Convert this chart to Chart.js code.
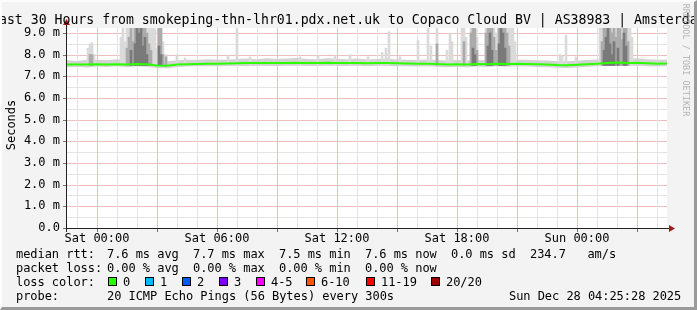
<!DOCTYPE html>
<html>
<head>
<meta charset="utf-8">
<script src="https://cdn.jsdelivr.net/npm/chart.js"></script>
<style>
body { margin: 0; background: #f3f3f3; }
#wrap { position: relative; width: 697px; height: 310px; background: #f3f3f3; overflow: hidden;
  font-family: "DejaVu Sans Mono", monospace; color: #000; }
#wrap canvas { position: absolute; left: 0; top: 0; }
.frame { position: absolute; left: 0; top: 0; width: 697px; height: 310px; box-sizing: border-box;
  border-style: solid; border-width: 2px 3px 3px 2px; border-color: #fcfcfc #9a9a9a #9a9a9a #fcfcfc; pointer-events: none; }
.title { position: absolute; left: -9px; top: 13px; font-size: 13.2px; line-height: 13px; white-space: nowrap; }
.t { position: absolute; font-size: 12px; line-height: 14px; white-space: pre; letter-spacing: -0.05px; }
.box { position: absolute; top: 277px; width: 9px; height: 9px; box-sizing: border-box; border: 1px solid #000; }
.ylab { position: absolute; left: -29px; top: 118px; width: 80px; height: 14px; line-height: 14px; font-size: 12px; text-align: center; transform: rotate(-90deg); }
.rrd { position: absolute; left: 626px; top: 55px; width: 120px; height: 10px; line-height: 10px; font-size: 8.5px; color: #b4b4b4; text-align: center; transform: rotate(90deg); white-space: nowrap; }
</style>
</head>
<body>
<div id="wrap">
  <canvas id="chart" width="697" height="310"></canvas>
  <div class="title">Last 30 Hours from smokeping-thn-lhr01.pdx.net.uk to Copaco Cloud BV | AS38983 | Amsterdam</div>
  <div class="ylab">Seconds</div>
  <div class="rrd">RRDTOOL / TOBI OETIKER</div>
  <div id="legend"></div>
  <div class="frame"></div>
</div>
<script>
// time axis in hours relative to Sat 00:00
const sampleHour = [-1.5,-1,-0.5,0, 0.5,1,1.5,2,2.5,3, 3.5,4,4.5,5,5.5,6, 6.5,7,7.5,8,8.5,9,
  9.5,10,10.5,11,11.5,12, 12.5,13,13.5,14,14.5,15, 15.5,16,16.5,17,17.5,18, 18.5,19,19.5,20,20.5,21,
  21.5,22,22.5,23,23.5,24, 24.5,25,25.5,26,26.5,27, 27.5,28,28.5];
const median = [7.55,7.54,7.55,7.56, 7.55,7.56,7.55,7.57,7.56,7.50, 7.49,7.54,7.56,7.57,7.58,7.58,
  7.59,7.60,7.61,7.61,7.62,7.61, 7.62,7.63,7.62,7.61,7.63,7.62, 7.61,7.62,7.60,7.61,7.62,7.60,
  7.59,7.58,7.58,7.57,7.55,7.56, 7.55,7.57,7.56,7.58,7.57,7.58, 7.57,7.56,7.55,7.52,7.51,7.53,
  7.56,7.58,7.62,7.64,7.62,7.63, 7.60,7.58,7.59];
const smokeLo = [7.42,7.44,7.41,7.45, 7.43,7.46,7.42,7.47,7.44,7.38, 7.37,7.43,7.45,7.46,7.47,7.46,
  7.48,7.49,7.47,7.50,7.49,7.48, 7.50,7.51,7.49,7.48,7.51,7.49, 7.48,7.50,7.47,7.49,7.50,7.47,
  7.46,7.45,7.46,7.44,7.42,7.44, 7.42,7.45,7.43,7.46,7.44,7.46, 7.45,7.43,7.42,7.39,7.38,7.41,
  7.44,7.46,7.49,7.51,7.48,7.50, 7.47,7.45,7.47];
const smokeHi = [7.74,7.71,7.77,7.76, 7.74,7.79,7.75,7.81,7.78,7.72, 7.70,7.74,7.77,7.76,7.79,7.78,
  7.77,7.80,7.82,7.79,7.83,7.80, 7.82,7.84,7.80,7.79,7.83,7.81, 7.79,7.82,7.78,7.80,7.82,7.78,
  7.77,7.75,7.78,7.75,7.73,7.76, 7.73,7.77,7.74,7.78,7.75,7.77, 7.76,7.74,7.73,7.70,7.69,7.72,
  7.75,7.78,7.82,7.85,7.81,7.83, 7.79,7.77,7.78];

// smoke spikes (ping spread tops, ms)
const spikeBase = 7.5;
const spikeHour = [-0.45,-0.35,-0.25,-0.15,
  1.2,1.3,1.4,1.5,1.6,1.7,1.8,1.9,2.0,2.1,2.2,2.3,2.4,2.5,2.6,2.7,2.8,2.9,3.0,3.1,3.2,3.3,3.45,
  4.0,4.4,6.55,7.0,7.65,
  10.15,11.05,11.9,12.65,13.55,14.25,14.45,14.6,15.15,16.05,16.55,16.7,17.0,17.5,17.65,17.75,
  18.25,18.35,18.45,18.7,18.8,18.9,19.0,
  19.45,19.55,19.65,19.75,19.85,19.95,
  20.1,20.2,20.3,20.4,20.5,20.6,20.7,20.8,20.9,
  23.15,23.25,23.45,23.95,
  25.15,25.25,25.35,25.45,25.55,25.65,25.75,25.85,25.95,26.05,26.15,26.25,26.35,26.45,26.55,26.65,26.75];
const spikeLight = [8.3,8.5,8.55,8.0,
  8.8,9.5,8.6,9.5,9.5,9.5,9.5,9.5,9.5,9.5,9.5,9.5,9.5,9.5,9.5,9.5,9.5,9.2,8.3,9.5,9.5,8.6,8.0,
  8.0,7.85,7.95,9.5,7.9,
  7.9,7.95,7.95,8.0,7.9,8.1,8.3,9.05,7.9,8.65,9.5,8.4,9.5,8.2,9.0,8.6,
  9.5,9.5,8.8,9.5,9.5,9.5,8.8,
  9.5,9.5,9.5,9.5,9.5,9.0,
  9.5,9.5,9.5,9.5,9.5,9.5,9.5,9.5,8.6,
  8.0,7.95,8.9,7.9,
  9.5,9.5,9.5,9.5,9.5,9.5,9.5,9.5,9.5,9.5,9.5,9.5,9.5,9.5,9.5,9.5,8.8];
const spikeMid = [null,8.0,8.0,null,
  null,null,null,8.3,8.8,9.5,8.6,9.5,9.5,9.5,9.5,9.5,9.5,9.0,8.5,8.2,null,null,null,9.5,9.3,8.0,7.9,
  null,null,null,null,null,
  null,null,null,null,null,null,null,null,null,null,null,null,8.5,null,null,null,
  null,8.6,null,9.0,9.5,9.2,8.2,
  9.0,9.5,9.5,9.5,8.8,8.2,
  9.5,9.5,9.5,9.5,9.0,8.4,null,null,null,
  null,null,null,null,
  null,8.6,9.5,9.5,9.5,9.5,9.0,9.5,8.8,9.5,9.2,8.7,9.5,9.5,8.6,null,null];
const spikeDark = [null,null,null,null,
  null,null,null,null,null,8.2,null,8.5,9.5,9.0,9.5,8.4,8.8,8.0,null,null,null,null,null,8.4,8.0,null,null,
  null,null,null,null,null,
  null,null,null,null,null,null,null,null,null,null,null,null,null,null,null,null,
  null,null,null,null,8.3,8.0,null,
  null,8.4,9.0,8.2,null,null,
  8.5,9.5,9.0,8.3,null,null,null,null,null,
  null,null,null,null,
  null,null,8.2,8.8,9.5,8.5,8.0,8.6,null,8.3,null,null,9.0,8.4,null,null,null];

const tickHours = [0, 6, 12, 18, 24];
const tickLabels = ['Sat 00:00', 'Sat 06:00', 'Sat 12:00', 'Sat 18:00', 'Sun 00:00'];
const yTickValues = [0, 1, 2, 3, 4, 5, 6, 7, 8, 9];
const yTickLabels = ['0.0', '1.0 m', '2.0 m', '3.0 m', '4.0 m', '5.0 m', '6.0 m', '7.0 m', '8.0 m', '9.0 m'];

// legend
const rttLabels = ['7.6 ms avg', '7.7 ms max', '7.5 ms min', '7.6 ms now', '0.0 ms sd', '234.7   am/s'];
const rttX = [107, 193, 279, 365, 451, 530];
const lossLabels = ['0.00 % avg', '0.00 % max', '0.00 % min', '0.00 % now'];
const lossNames = ['0', '1', '2', '3', '4-5', '6-10', '11-19', '20/20'];
const lossColors = ['#26ff00', '#00b8ff', '#0059ff', '#7e00ff', '#ff00ff', '#ff5500', '#ff0000', '#a10000'];
const lossBoxX = [108, 145, 182, 219, 256, 306, 366, 431];

const legend = document.getElementById('legend');
function txt(s, x, y) {
  const d = document.createElement('div');
  d.className = 't'; d.textContent = s;
  d.style.left = x + 'px'; d.style.top = y + 'px';
  legend.appendChild(d);
}
txt('median rtt:', 16, 247);
rttLabels.forEach((s, i) => txt(s, rttX[i], 247));
txt('packet loss:', 16, 261);
lossLabels.forEach((s, i) => txt(s, rttX[i], 261));
txt('loss color:', 16, 275);
lossNames.forEach((s, i) => {
  const b = document.createElement('div');
  b.className = 'box'; b.style.left = lossBoxX[i] + 'px'; b.style.background = lossColors[i];
  legend.appendChild(b);
  txt(s, lossBoxX[i] + 15, 275);
});
txt('probe:', 16, 289);
txt('20 ICMP Echo Pings (56 Bytes) every 300s', 107, 289);
txt('Sun Dec 28 04:25:28 2025', 509, 289);

function bars(tops) {
  const out = [];
  spikeHour.forEach((h, i) => { if (tops[i] != null) out.push({x: h, y: [spikeBase, tops[i]]}); });
  return out;
}
const pts = arr => sampleHour.map((h, i) => ({x: h, y: arr[i]}));

// grid positions: every hour / every half ms
const gridX = [], gridY = [];
for (let h = -1; h <= 28; h++) gridX.push(h);
for (let v = 0; v <= 9; v += 0.5) gridY.push(v);

// dotted rrdtool grid, rendered as its blended tone
const minor = '#e4e4e4', major = '#efbebe';

const frame = {
  id: 'frame',
  beforeDraw(c) {
    const a = c.chartArea, x = c.ctx;
    x.save();
    x.fillStyle = '#fff';
    x.fillRect(a.left, a.top, a.right - a.left, a.bottom - a.top);
    x.restore();
  },
  beforeDatasetsDraw(c) {
    const a = c.chartArea, x = c.ctx, sx = c.scales.x, sy = c.scales.y;
    const t0 = Math.round(a.top), b0 = Math.round(a.bottom), l0 = Math.round(a.left), r0 = Math.round(a.right);
    x.save();
    gridY.forEach(v => {
      if (v === 0) return;
      const py = Math.round(sy.getPixelForValue(v));
      x.fillStyle = Number.isInteger(v) ? major : minor;
      x.fillRect(l0, py, r0 - l0, 1);
    });
    gridX.forEach(h => {
      const px = Math.round(sx.getPixelForValue(h));
      x.fillStyle = h % 3 === 0 ? major : minor;
      x.fillRect(px, t0, 1, b0 - t0);
    });
    x.restore();
  },
  afterDraw(c) {
    const a = c.chartArea, x = c.ctx, sx = c.scales.x, sy = c.scales.y;
    x.save();
    x.strokeStyle = '#222'; x.lineWidth = 1;
    x.beginPath();
    x.moveTo(a.left - 4, a.bottom + 0.5); x.lineTo(a.right + 4, a.bottom + 0.5);
    x.moveTo(a.left - 0.5, a.bottom + 4); x.lineTo(a.left - 0.5, a.top - 4);
    x.stroke();
    // small tick marks
    x.strokeStyle = '#777';
    x.beginPath();
    gridX.filter(h => h % 3 === 0).forEach(h => {
      const px = Math.round(sx.getPixelForValue(h)) + 0.5;
      x.moveTo(px, a.bottom + 1); x.lineTo(px, a.bottom + 4);
    });
    yTickValues.forEach(v => {
      const py = Math.round(sy.getPixelForValue(v)) + 0.5;
      x.moveTo(a.left - 4, py); x.lineTo(a.left - 1, py);
    });
    x.stroke();
    x.fillStyle = '#9c1c1c';
    x.beginPath();
    x.moveTo(a.right + 8, a.bottom + 0.5); x.lineTo(a.right + 2, a.bottom - 3); x.lineTo(a.right + 2, a.bottom + 4);
    x.fill();
    x.beginPath();
    x.moveTo(a.left - 0.5, a.top - 9); x.lineTo(a.left - 4, a.top - 3); x.lineTo(a.left + 3, a.top - 3);
    x.fill();
    x.restore();
  }
};

const font = {family: 'DejaVu Sans Mono', size: 12};

new Chart(document.getElementById('chart'), {
  type: 'line',
  data: {
    datasets: [
      {data: pts(smokeLo), borderWidth: 0, pointRadius: 0, fill: false, order: 6},
      {data: pts(smokeHi), borderWidth: 0, pointRadius: 0, fill: '-1', backgroundColor: '#d2d2d2', order: 5},
      {type: 'bar', data: bars(spikeLight), backgroundColor: '#dadada', barThickness: 2, grouped: false, order: 4},
      {type: 'bar', data: bars(spikeMid), backgroundColor: '#ababab', barThickness: 2, grouped: false, order: 3},
      {type: 'bar', data: bars(spikeDark), backgroundColor: '#7a7a7a', barThickness: 2, grouped: false, order: 2},
      {data: pts(median), borderColor: '#2bff00', borderWidth: 2, pointRadius: 0, fill: false, order: 1}
    ]
  },
  options: {
    responsive: false,
    animation: false,
    devicePixelRatio: 1,
    layout: {padding: {left: 0, top: 28, right: 30, bottom: 0}},
    plugins: {legend: {display: false}, tooltip: {enabled: false}, title: {display: false}},
    scales: {
      x: {
        type: 'linear', min: -1.5, max: 28.5, offset: false,
        afterFit: s => { s.height = 82; },
        afterBuildTicks: s => { s.ticks = tickHours.map(v => ({value: v})); },
        border: {display: false},
        grid: {display: false, drawTicks: false, offset: false},
        ticks: {
          autoSkip: false, maxRotation: 0, minRotation: 0, padding: 4,
          color: '#000', font,
          callback: v => { const i = tickHours.indexOf(v); return i >= 0 ? tickLabels[i] : ''; }
        }
      },
      y: {
        min: 0, max: 9.23,
        afterFit: s => { s.width = 67; },
        afterBuildTicks: s => { s.ticks = yTickValues.map(v => ({value: v})); },
        border: {display: false},
        grid: {display: false, drawTicks: false},
        ticks: {
          autoSkip: false, padding: 7,
          color: '#000', font,
          callback: v => { const i = yTickValues.indexOf(v); return i >= 0 ? yTickLabels[i] : ''; }
        }
      }
    }
  },
  plugins: [frame]
});
</script>
</body>
</html>
